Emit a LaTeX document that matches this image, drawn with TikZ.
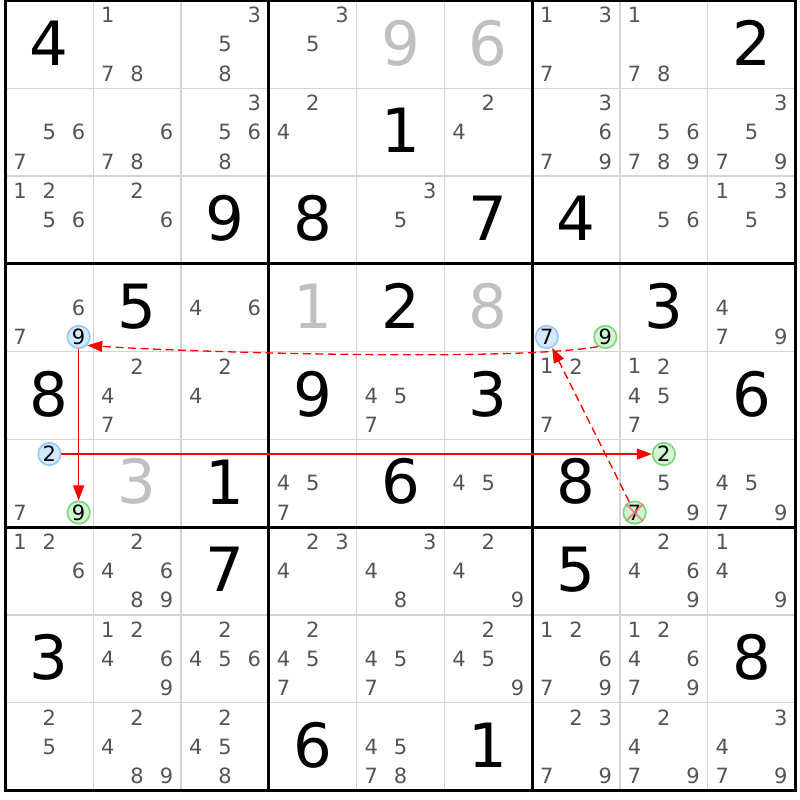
\documentclass[tikz,border=0pt]{standalone}
\usepackage{fontspec}
\setmainfont{DejaVu Sans}
\usetikzlibrary{arrows.meta}
\definecolor{candc}{RGB}{85,85,85}
\definecolor{solvedc}{RGB}{192,192,192}
\definecolor{thinc}{RGB}{212,212,212}
\definecolor{bluefill}{RGB}{212,232,255}
\definecolor{bluedraw}{RGB}{150,200,245}
\definecolor{greenfill}{RGB}{208,245,208}
\definecolor{greendraw}{RGB}{120,215,120}
\definecolor{crossc}{RGB}{240,120,120}
\definecolor{arrowc}{RGB}{255,0,0}

\newcommand\Cand[4][cand]{%
  \pgfmathsetmacro\cx{5.5+(#3-1)*87.78+(mod(#4-1,3)+0.5)*29.26}%
  \pgfmathsetmacro\cy{799.5-(#2-1)*87.78-(floor((#4-1)/3)+0.5)*29.26}%
  \node[#1] (c#2-#3-#4) at (\cx,\cy) {#4};}
\newcommand\CandList[3]{\foreach \dd in {#3} {\Cand{#1}{#2}{\dd}}}
\newcommand\BigDigit[4][given]{%
  \pgfmathsetmacro\cx{5.5+(#3-0.5)*87.78}%
  \pgfmathsetmacro\cy{799.5-(#2-0.5)*87.78+1.5}%
  \node[#1] (b#2-#3) at (\cx,\cy) {#4};}

\begin{document}
\begin{tikzpicture}[x=1pt,y=1pt,
  cand/.style={text=candc, font=\fontsize{21}{25}\selectfont, inner sep=0pt},
  hiblue/.style={cand, text=black, circle, fill=bluefill, draw=bluedraw, line width=1.6pt, minimum size=22.5pt},
  higreen/.style={cand, text=black, circle, fill=greenfill, draw=greendraw, line width=1.6pt, minimum size=22.5pt},
  given/.style={text=black, font=\fontsize{61}{70}\selectfont, inner sep=0pt},
  solved/.style={given, text=solvedc},
  thinline/.style={draw=thinc, line width=1.3pt},
  thickline/.style={draw=black, line width=3pt},
  link/.style={draw=arrowc, line width=1.3pt, -{Triangle[length=15pt,width=11pt]}},
  weaklink/.style={link, dash pattern=on 8pt off 4.5pt},
  crossline/.style={draw=crossc, line width=2pt, opacity=0.8}]
\useasboundingbox (0,0) rectangle (800,800);
\fill[white] (0,0) rectangle (800,800);
% thin grid
\foreach \i in {1,2,4,5,7,8} {
  \draw[thinline] ({5.5+\i*87.78},799.5) -- ({5.5+\i*87.78},9.5);
  \draw[thinline] (5.5,{799.5-\i*87.78}) -- (795.5,{799.5-\i*87.78});
}
\foreach \i in {0,3,6,9} {
  \draw[thickline] ({5.5+\i*87.78},801) -- ({5.5+\i*87.78},8);
  \draw[thickline] (4,{799.5-\i*87.78}) -- (797,{799.5-\i*87.78});
}
% big digits
\BigDigit{1}{1}{4}\BigDigit{1}{9}{2}\BigDigit{2}{5}{1}\BigDigit{3}{3}{9}\BigDigit{3}{4}{8}\BigDigit{3}{6}{7}\BigDigit{3}{7}{4}
\BigDigit{4}{2}{5}\BigDigit{4}{5}{2}\BigDigit{4}{8}{3}\BigDigit{5}{1}{8}\BigDigit{5}{4}{9}\BigDigit{5}{6}{3}\BigDigit{5}{9}{6}
\BigDigit{6}{3}{1}\BigDigit{6}{5}{6}\BigDigit{6}{7}{8}\BigDigit{7}{3}{7}\BigDigit{7}{7}{5}\BigDigit{8}{1}{3}\BigDigit{8}{9}{8}
\BigDigit{9}{4}{6}\BigDigit{9}{6}{1}
\BigDigit[solved]{1}{5}{9}\BigDigit[solved]{1}{6}{6}\BigDigit[solved]{4}{4}{1}\BigDigit[solved]{4}{6}{8}\BigDigit[solved]{6}{2}{3}
% candidates
\CandList{1}{2}{1,7,8}
\CandList{1}{3}{3,5,8}
\CandList{1}{4}{3,5}
\CandList{1}{7}{1,3,7}
\CandList{1}{8}{1,7,8}
\CandList{2}{1}{5,6,7}
\CandList{2}{2}{6,7,8}
\CandList{2}{3}{3,5,6,8}
\CandList{2}{4}{2,4}
\CandList{2}{6}{2,4}
\CandList{2}{7}{3,6,7,9}
\CandList{2}{8}{5,6,7,8,9}
\CandList{2}{9}{3,5,7,9}
\CandList{3}{1}{1,2,5,6}
\CandList{3}{2}{2,6}
\CandList{3}{5}{3,5}
\CandList{3}{8}{5,6}
\CandList{3}{9}{1,3,5}
\CandList{4}{1}{6,7}
\CandList{4}{3}{4,6}
\CandList{4}{9}{4,7,9}
\CandList{5}{2}{2,4,7}
\CandList{5}{3}{2,4}
\CandList{5}{5}{4,5,7}
\CandList{5}{7}{1,2,7}
\CandList{5}{8}{1,2,4,5,7}
\CandList{6}{1}{7}
\CandList{6}{4}{4,5,7}
\CandList{6}{6}{4,5}
\CandList{6}{8}{5,9}
\CandList{6}{9}{4,5,7,9}
\CandList{7}{1}{1,2,6}
\CandList{7}{2}{2,4,6,8,9}
\CandList{7}{4}{2,3,4}
\CandList{7}{5}{3,4,8}
\CandList{7}{6}{2,4,9}
\CandList{7}{8}{2,4,6,9}
\CandList{7}{9}{1,4,9}
\CandList{8}{2}{1,2,4,6,9}
\CandList{8}{3}{2,4,5,6}
\CandList{8}{4}{2,4,5,7}
\CandList{8}{5}{4,5,7}
\CandList{8}{6}{2,4,5,9}
\CandList{8}{7}{1,2,6,7,9}
\CandList{8}{8}{1,2,4,6,7,9}
\CandList{9}{1}{2,5}
\CandList{9}{2}{2,4,8,9}
\CandList{9}{3}{2,4,5,8}
\CandList{9}{5}{4,5,7,8}
\CandList{9}{7}{2,3,7,9}
\CandList{9}{8}{2,4,7,9}
\CandList{9}{9}{3,4,7,9}
% highlighted candidates
\Cand[hiblue]{4}{1}{9}
\Cand[hiblue]{6}{1}{2}
\Cand[higreen]{6}{1}{9}
\Cand[hiblue]{4}{7}{7}
\Cand[higreen]{4}{7}{9}
\Cand[higreen]{6}{8}{2}
\Cand[higreen]{6}{8}{7}
\draw[crossline] (c6-8-7.135) -- (c6-8-7.-45);
\draw[crossline] (c6-8-7.45) -- (c6-8-7.-135);
% links
\draw[weaklink] (c4-7-9.233) to[out=190,in=-4,looseness=0.45] (c4-1-9.-44);
\draw[link] (c4-1-9) -- (c6-1-9);
\draw[link] (c6-1-2) -- (c6-8-2);
\draw[weaklink] (c6-8-7) -- (c4-7-7);
\end{tikzpicture}
\end{document}
